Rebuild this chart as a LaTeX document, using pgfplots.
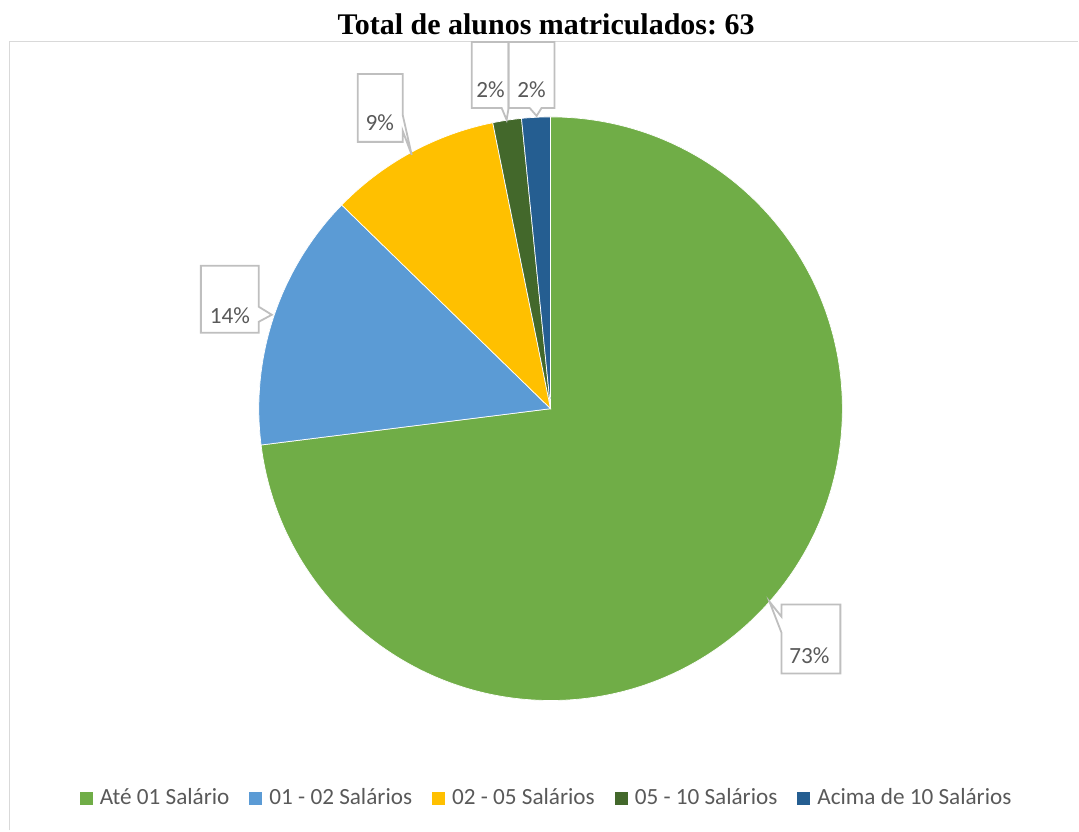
\documentclass[border=0pt]{standalone}
\usepackage{pgfplots}
\pgfplotsset{compat=1.18}
\usepackage{pgfplotstable}
\usepackage{fontspec}
\setmainfont{Liberation Serif}
\newfontfamily\carlito{Carlito}
\definecolor{cA}{HTML}{70AD47}
\definecolor{cB}{HTML}{5B9BD5}
\definecolor{cC}{HTML}{FFC000}
\definecolor{cD}{HTML}{43682B}
\definecolor{cE}{HTML}{255E91}
\definecolor{cF}{HTML}{D9D9D9}
\definecolor{cL}{HTML}{BFBFBF}
\definecolor{cT}{HTML}{595959}
\pgfplotsset{sqlegend/.style={legend image code/.code={\fill[##1] (0pt,-3.25pt) rectangle (6.5pt,3.25pt);}}}
\pgfplotstableread[col sep=comma]{
category,count
Ate01,46
S0102,9
S0205,6
S0510,1
Acima10,1
}\slicedata
\frenchspacing
\begin{document}
\begin{tikzpicture}
\pgfplotstablegetelem{0}{count}\of\slicedata \edef\vA{\pgfplotsretval}
\pgfplotstablegetelem{1}{count}\of\slicedata \edef\vB{\pgfplotsretval}
\pgfplotstablegetelem{2}{count}\of\slicedata \edef\vC{\pgfplotsretval}
\pgfplotstablegetelem{3}{count}\of\slicedata \edef\vD{\pgfplotsretval}
\pgfplotstablegetelem{4}{count}\of\slicedata \edef\vE{\pgfplotsretval}
\pgfmathsetmacro\tot{\vA+\vB+\vC+\vD+\vE}
\pgfmathsetmacro\aA{90}
\pgfmathsetmacro\aB{\aA-360*(\vA/\tot)}
\pgfmathsetmacro\aC{\aB-360*(\vB/\tot)}
\pgfmathsetmacro\aD{\aC-360*(\vC/\tot)}
\pgfmathsetmacro\aE{\aD-360*(\vD/\tot)}
\pgfmathsetmacro\aF{\aE-360*(\vE/\tot)}
\begin{axis}[
  hide axis, scale only axis, width=539.5pt, height=415.5pt,
  xmin=0, xmax=1079, ymin=0, ymax=831, clip=false,
  legend columns=5,
  legend cell align=left,
  legend style={at={(axis cs:548,32)}, anchor=center, draw=none, fill=none,
    font=\carlito\fontsize{11.6}{14}\selectfont, text=cT,
    /tikz/every odd column/.append style={column sep=1.5pt},
    /tikz/every even column/.append style={column sep=8pt}},
]
\path (axis cs:0,0) rectangle (axis cs:1079,831);
\draw[cF, line width=0.8pt] (axis cs:9.5,0) -- (axis cs:9.5,789.5) -- (axis cs:1079,789.5);
\node[anchor=base, font=\bfseries\fontsize{15}{18}\selectfont] at (axis cs:546.5,796) {Total de alunos matriculados: 63};
\fill[cA, draw=white, line width=0.35pt] (axis cs:551,422) -- ++(\aA:146pt) arc[start angle=\aA, end angle=\aB, radius=146pt] -- cycle;
\fill[cB, draw=white, line width=0.35pt] (axis cs:551,422) -- ++(\aB:146pt) arc[start angle=\aB, end angle=\aC, radius=146pt] -- cycle;
\fill[cC, draw=white, line width=0.35pt] (axis cs:551,422) -- ++(\aC:146pt) arc[start angle=\aC, end angle=\aD, radius=146pt] -- cycle;
\fill[cD, draw=white, line width=0.35pt] (axis cs:551,422) -- ++(\aD:146pt) arc[start angle=\aD, end angle=\aE, radius=146pt] -- cycle;
\fill[cE, draw=white, line width=0.35pt] (axis cs:551,422) -- ++(\aE:146pt) arc[start angle=\aE, end angle=\aF, radius=146pt] -- cycle;
% callouts
\draw[cL, line width=0.9pt, fill=white, line join=miter] (axis cs:201,565) -- (axis cs:259,565) -- (axis cs:259,524) -- (axis cs:272,516) -- (axis cs:259,509) -- (axis cs:259,498) -- (axis cs:201,498) -- cycle;
\node[text=cT, font=\carlito\fontsize{11.6}{14}\selectfont] at (axis cs:230,515) {14\%};
\draw[cL, line width=0.9pt, fill=white, line join=miter] (axis cs:358,757) -- (axis cs:403,757) -- (axis cs:403,716) -- (axis cs:412,676) -- (axis cs:403,700) -- (axis cs:403,689) -- (axis cs:358,689) -- cycle;
\node[text=cT, font=\carlito\fontsize{11.6}{14}\selectfont] at (axis cs:380,708) {9\%};
\draw[cL, line width=0.9pt, fill=white, line join=miter] (axis cs:472,789) -- (axis cs:509,789) -- (axis cs:509,723) -- (axis cs:507,711) -- (axis cs:502,723) -- (axis cs:472,723) -- cycle;
\node[text=cT, font=\carlito\fontsize{11.6}{14}\selectfont] at (axis cs:491,741) {2\%};
\draw[cL, line width=0.9pt, fill=white, line join=miter] (axis cs:509,789) -- (axis cs:555,789) -- (axis cs:555,723) -- (axis cs:542,723) -- (axis cs:537,715) -- (axis cs:530,723) -- (axis cs:509,723) -- cycle;
\node[text=cT, font=\carlito\fontsize{11.6}{14}\selectfont] at (axis cs:532,741) {2\%};
\draw[cL, line width=0.9pt, fill=white, line join=miter] (axis cs:782,226) -- (axis cs:782,214) -- (axis cs:770,229) -- (axis cs:782,198) -- (axis cs:782,157) -- (axis cs:841,157) -- (axis cs:841,226) -- cycle;
\node[text=cT, font=\carlito\fontsize{11.6}{14}\selectfont] at (axis cs:810,175) {73\%};
% legend
\addlegendimage{sqlegend, fill=cA, draw=none}
\addlegendentry{Até 01 Salário}
\addlegendimage{sqlegend, fill=cB, draw=none}
\addlegendentry{01 - 02 Salários}
\addlegendimage{sqlegend, fill=cC, draw=none}
\addlegendentry{02 - 05 Salários}
\addlegendimage{sqlegend, fill=cD, draw=none}
\addlegendentry{05 - 10 Salários}
\addlegendimage{sqlegend, fill=cE, draw=none}
\addlegendentry{Acima de 10 Salários}
\end{axis}
\end{tikzpicture}
\end{document}
